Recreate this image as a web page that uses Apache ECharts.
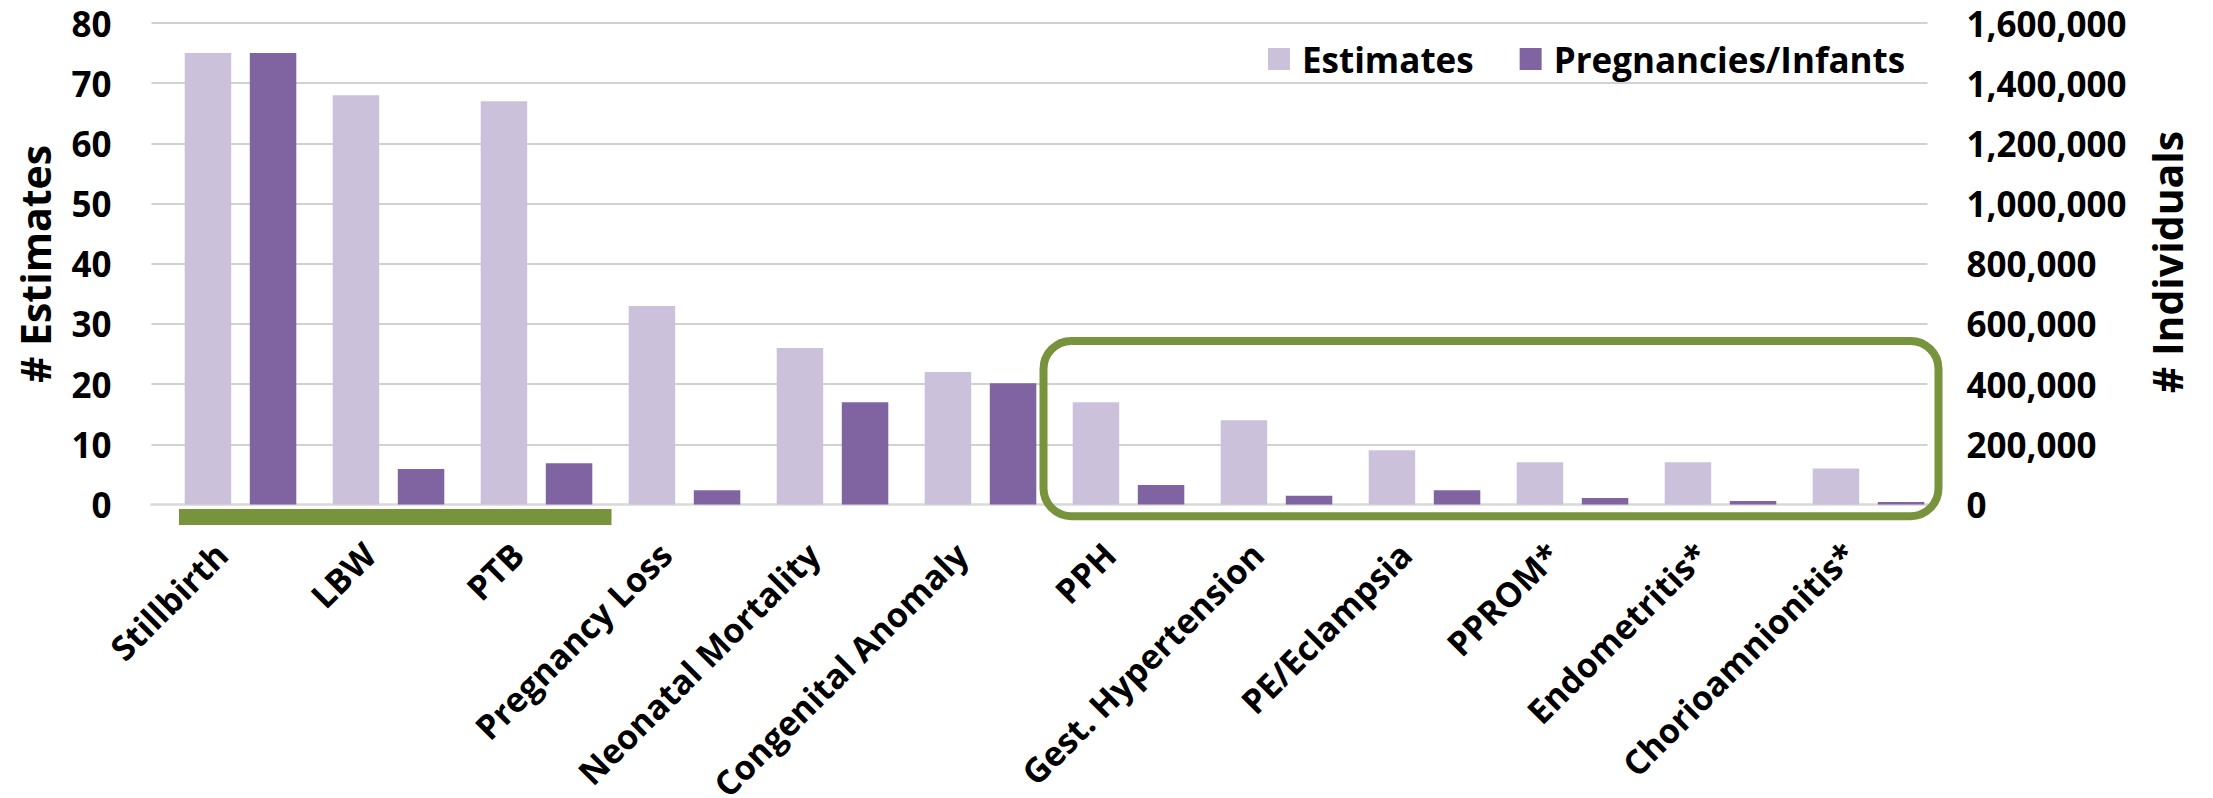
<!DOCTYPE html>
<html>
<head>
<meta charset="utf-8">
<script src="https://cdn.jsdelivr.net/npm/echarts@6/dist/echarts.min.js"></script>
<style>
  html, body { margin: 0; padding: 0; background: #ffffff; }
  #chart { width: 2213px; height: 798px; }
</style>
</head>
<body>
<div id="chart"></div>
<script>
// Outcome categories along the x axis
const categories = [
  'Stillbirth', 'LBW', 'PTB', 'Pregnancy Loss', 'Neonatal Mortality',
  'Congenital Anomaly', 'PPH', 'Gest. Hypertension', 'PE/Eclampsia',
  'PPROM*', 'Endometritis*', 'Chorioamnionitis*'
];
// Number of estimates (left axis)
const estimates = [75, 68, 67, 33, 26, 22, 17, 14, 9, 7, 7, 6];
// Number of pregnancies / infants (right axis)
const individuals = [1500000, 118000, 137000, 47000, 340000, 403000, 65000, 29000, 47000, 22000, 11600, 8000];

const seriesNames = ['Estimates', 'Pregnancies/Infants'];
const leftTicks = [0, 10, 20, 30, 40, 50, 60, 70, 80];
const rightTicks = [0, 200000, 400000, 600000, 800000, 1000000, 1200000, 1400000, 1600000];
const axisTitles = ['# Estimates', '# Individuals'];
// outcome groups framed by the green markers
const birthGroup = ['Stillbirth', 'PTB'];
const maternalGroup = ['PPH', 'Chorioamnionitis*'];

const FONT = '"Open Sans", Lato, "Noto Sans", sans-serif';
const LIGHT = '#CBC1DA';
const DARK = '#8064A2';
const GREEN = '#77933C';

const chart = echarts.init(document.getElementById('chart'), null, { renderer: 'svg' });

const fmt = v => Number(v).toLocaleString('en-US');

const gridTop = 23, gridBottom = 293.5;

chart.setOption({
  animation: false,
  backgroundColor: '#ffffff',
  textStyle: { fontFamily: FONT },
  legend: {
    data: seriesNames,
    left: 1268,
    top: 41.5,
    padding: 0,
    icon: 'rect',
    itemWidth: 22,
    itemHeight: 22,
    itemGap: 46,
    textStyle: { fontFamily: FONT, fontWeight: 'bold', fontSize: 35, color: '#000', padding: [0, 0, 0, 7] }
  },
  grid: [
    // grid holding the gridlines and both value axes
    { left: 151.5, right: 2213 - 1927.5, top: gridTop, bottom: gridBottom, containLabel: false, outerBoundsMode: 'none' },
    // grid holding the bars and the category labels
    { left: 166.5, right: 2213 - 1942.5, top: gridTop, bottom: gridBottom, containLabel: false, outerBoundsMode: 'none' }
  ],
  xAxis: [
    {
      gridIndex: 0, type: 'category', data: categories,
      axisLine: { show: true, lineStyle: { color: '#d9d9d9', width: 2.5 } },
      axisTick: { show: false }, axisLabel: { show: false }
    },
    {
      gridIndex: 1, type: 'category', data: categories,
      axisLine: { show: false }, axisTick: { show: false },
      axisLabel: {
        rotate: 45, interval: 0, margin: 25, padding: [0, 27, 0, 0],
        fontFamily: FONT, fontWeight: 'bold', fontSize: 34, color: '#000'
      }
    }
  ],
  yAxis: [
    {
      gridIndex: 0, type: 'value', position: 'left',
      min: leftTicks[0], max: leftTicks[leftTicks.length - 1], interval: leftTicks[1] - leftTicks[0],
      axisLine: { show: false }, axisTick: { show: false },
      axisLabel: { margin: 40, fontFamily: FONT, fontWeight: 'bold', fontSize: 35, color: '#000' },
      splitLine: { show: true, showMinLine: false, lineStyle: { color: '#c2c2c2', width: 1.5 } }
    },
    {
      gridIndex: 0, type: 'value', position: 'right',
      min: rightTicks[0], max: rightTicks[rightTicks.length - 1], interval: rightTicks[1] - rightTicks[0],
      axisLine: { show: false }, axisTick: { show: false },
      axisLabel: { margin: 39, formatter: fmt, fontFamily: FONT, fontWeight: 'bold', fontSize: 35, color: '#000' },
      splitLine: { show: false }
    },
    {
      gridIndex: 1, type: 'value', show: false,
      min: leftTicks[0], max: leftTicks[leftTicks.length - 1], interval: leftTicks[1] - leftTicks[0],
      splitLine: { show: false }
    },
    {
      gridIndex: 1, type: 'value', show: false,
      min: rightTicks[0], max: rightTicks[rightTicks.length - 1], interval: rightTicks[1] - rightTicks[0],
      splitLine: { show: false }
    }
  ],
  series: [
    {
      name: seriesNames[0], type: 'bar', xAxisIndex: 1, yAxisIndex: 2,
      data: estimates, barWidth: 46.5, barGap: '40%',
      itemStyle: { color: LIGHT }
    },
    {
      name: seriesNames[1], type: 'bar', xAxisIndex: 1, yAxisIndex: 3,
      data: individuals, barWidth: 46.5, barGap: '40%',
      itemStyle: { color: DARK }
    }
  ]
});

// Green markers placed relative to the category positions and the zero line
const cx = name => chart.convertToPixel({ xAxisIndex: 1 }, name);
const zeroY = chart.convertToPixel({ yAxisIndex: 0 }, 0);

const barX1 = cx(birthGroup[0]) - 61.5;
const barX2 = cx(birthGroup[1]) + 75;
const boxX1 = cx(maternalGroup[0]) - 85;
const boxX2 = cx(maternalGroup[1]) + 70;
const boxY1 = zeroY - 163.5;
const boxY2 = zeroY + 11.7;

chart.setOption({
  graphic: [
    {
      type: 'rect', z: 50,
      shape: { x: barX1, y: zeroY + 4.5, width: barX2 - barX1, height: 16 },
      style: { fill: GREEN }
    },
    {
      type: 'rect', z: 50,
      shape: { x: boxX1, y: boxY1, width: boxX2 - boxX1, height: boxY2 - boxY1, r: 28 },
      style: { fill: 'none', stroke: GREEN, lineWidth: 8 }
    },
    {
      type: 'text', z: 50, x: 34.6, y: 264, rotation: Math.PI / 2,
      style: { text: axisTitles[0], font: 'bold 41px ' + FONT, fill: '#000', align: 'center', verticalAlign: 'middle' }
    },
    {
      type: 'text', z: 50, x: 2167, y: 262, rotation: Math.PI / 2,
      style: { text: axisTitles[1], font: 'bold 41px ' + FONT, fill: '#000', align: 'center', verticalAlign: 'middle' }
    }
  ]
});
</script>
</body>
</html>
